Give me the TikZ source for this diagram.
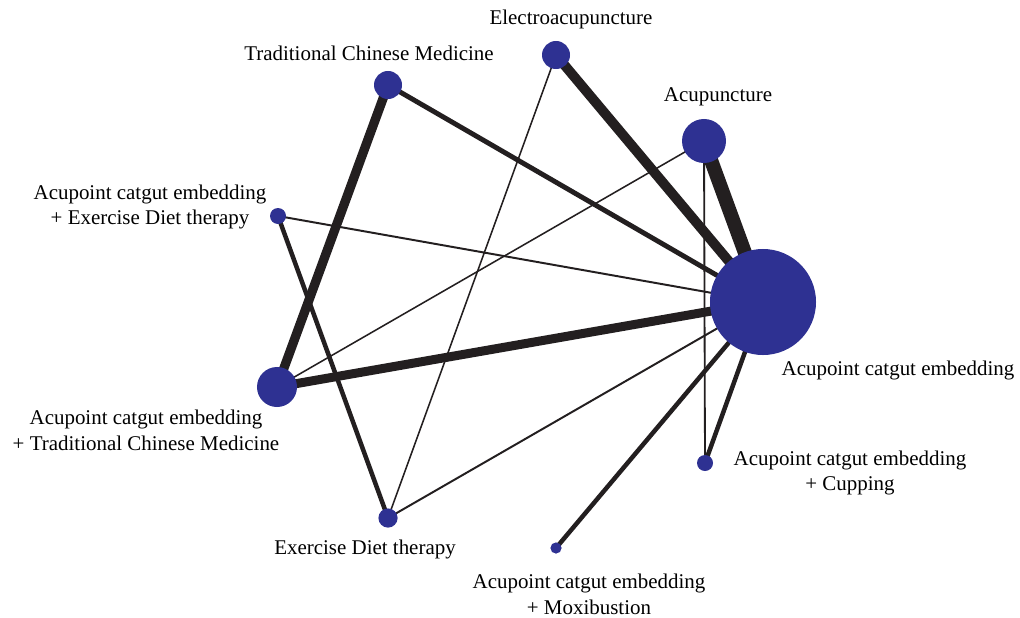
\documentclass[tikz,border=0pt]{standalone}
\usepackage{fontspec}
\setmainfont{Liberation Serif}
\usepackage{tikz}
\usetikzlibrary{backgrounds}

\definecolor{nmablue}{RGB}{46,49,146}
\definecolor{nmaedge}{RGB}{35,31,32}

\begin{document}
\begin{tikzpicture}[x=0.025cm,y=-0.025cm,
		trt/.style={circle,fill=nmablue,inner sep=0pt,minimum size=#1},
		lbl/.style={align=center,inner sep=0pt,font=\fontsize{14.9}{18.4}\selectfont},
		cmp/.style={draw=nmaedge,line width=#1}]
		\useasboundingbox (0,0) rectangle (1020,618);
		\node[trt=26.5mm] (ace) at (763,302) {};
		\node[trt=11mm] (acu) at (704,141) {};
		\node[trt=7mm] (ea) at (556,55) {};
		\node[trt=7mm] (tcm) at (388,85) {};
		\node[trt=4mm] (aceed) at (278,216) {};
		\node[trt=10mm] (acetcm) at (277,387) {};
		\node[trt=4.8mm] (ed) at (388,518) {};
		\node[trt=2.8mm] (acemox) at (556,548) {};
		\node[trt=4mm] (acecup) at (705,463) {};
		\begin{scope}[on background layer]
			\draw[cmp=10pt] (ace.center) -- (acu.center);
			\draw[cmp=7pt] (ace.center) -- (ea.center);
			\draw[cmp=3.5pt] (ace.center) -- (tcm.center);
			\draw[cmp=1.4pt] (ace.center) -- (aceed.center);
			\draw[cmp=6.4pt] (ace.center) -- (acetcm.center);
			\draw[cmp=1.4pt] (ace.center) -- (ed.center);
			\draw[cmp=3.2pt] (ace.center) -- (acemox.center);
			\draw[cmp=3.2pt] (ace.center) -- (acecup.center);
			\draw[cmp=6.6pt] (tcm.center) -- (acetcm.center);
			\draw[cmp=3.2pt] (aceed.center) -- (ed.center);
			\draw[cmp=1.1pt] (ea.center) -- (ed.center);
			\draw[cmp=1.1pt] (acu.center) -- (acetcm.center);
			\draw[cmp=1.3pt] (acu.center) -- (acecup.center);
		\end{scope}
		\node[lbl] (acelbl) at (898,370) {Acupoint catgut embedding};
		\node[lbl] (aculbl) at (718,97) {Acupuncture};
		\node[lbl] (ealbl) at (571,19) {Electroacupuncture};
		\node[lbl] (tcmlbl) at (369,53) {Traditional Chinese Medicine};
		\node[lbl] (aceedlbl) at (150,207) {Acupoint catgut embedding\\+ Exercise Diet therapy};
		\node[lbl] (acetcmlbl) at (146,430) {Acupoint catgut embedding\\+ Traditional Chinese Medicine};
		\node[lbl] (edlbl) at (365,549) {Exercise Diet therapy};
		\node[lbl] (acemoxlbl) at (589,594) {Acupoint catgut embedding\\+ Moxibustion};
		\node[lbl] (acecuplbl) at (850,473) {Acupoint catgut embedding\\+ Cupping};
	\end{tikzpicture}
\end{document}
